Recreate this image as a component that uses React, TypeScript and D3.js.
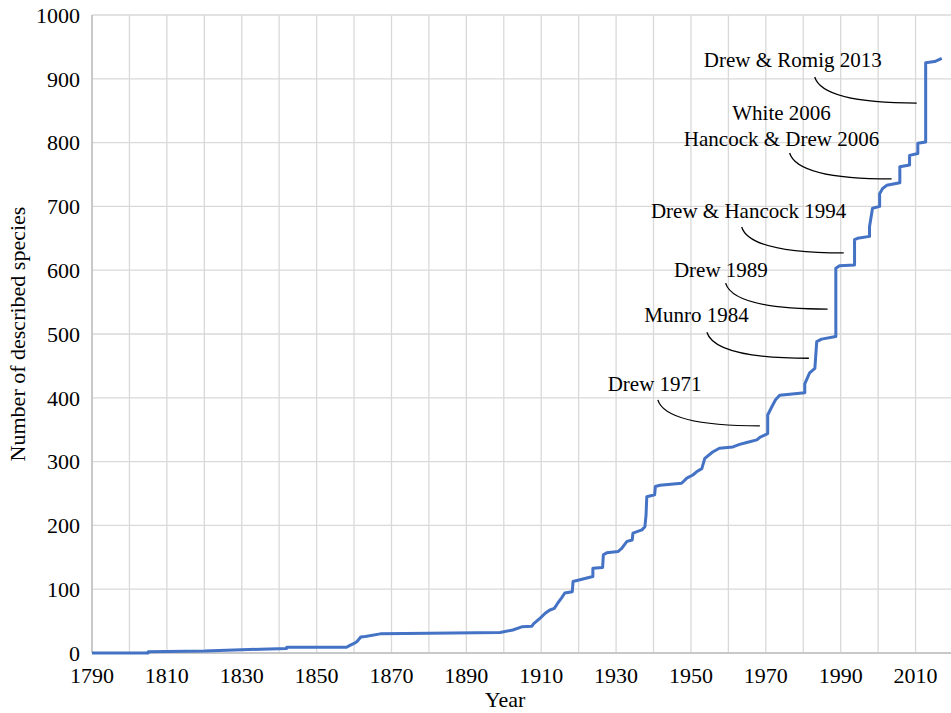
import React from 'react'
import * as d3 from 'd3'

// cumulative number of described species
const years = [
  1790, 1805, 1805, 1820, 1835, 1842, 1842, 1858, 1858.9, 1860, 1860.8, 1861.8, 1863, 1867, 1880, 1899,
  1902.4, 1904.8, 1907.5, 1908, 1908.8, 1909.8, 1911, 1912.2, 1913.5, 1914.4, 1915.4, 1916.3, 1918.3,
  1918.5, 1923.8, 1923.8, 1926.4, 1926.6, 1927.5, 1930.5, 1931.5, 1932.9, 1934.3, 1934.5, 1936.9, 1937.7,
  1938, 1938.2, 1940.3, 1940.5, 1941.7, 1947.5, 1948.9, 1950.5, 1951.5, 1952.9, 1953.7, 1955.8, 1957.6,
  1961.2, 1963, 1964.9, 1967.6, 1968.4, 1970.5, 1970.5, 1971.6, 1972.6, 1973.7, 1980.4, 1980.4, 1981.7,
  1983.1, 1983.6, 1984.9, 1988.7, 1988.7, 1989.7, 1993.7, 1993.7, 1994.5, 1997.7, 1997.7, 1998.5, 2000.4,
  2000.4, 2001.2, 2002.3, 2005.8, 2005.8, 2008.4, 2008.4, 2010.6, 2010.6, 2012.7, 2012.7, 2015.1, 2017,
]
const counts = [
  0, 0, 2, 3, 6, 7, 9, 9, 12, 15, 18, 25, 26, 30, 31, 32,
  36, 41, 42, 46, 50, 55, 62, 67, 70, 78, 86, 94, 96,
  112, 120, 133, 134, 154, 157, 159, 164, 175, 177, 188, 193, 198,
  216, 245, 248, 261, 263, 266, 274, 279, 284, 289, 305, 315, 321,
  323, 327, 330, 334, 338, 344, 373, 386, 397, 404, 408, 422, 439,
  446, 488, 492, 496, 603, 607, 608, 648, 650, 653, 668, 697, 700,
  720, 728, 733, 737, 762, 765, 780, 783, 799, 801, 925, 927, 932,
]

const xTickLabels = [1790, 1810, 1830, 1850, 1870, 1890, 1910, 1930, 1950, 1970, 1990, 2010]
const xGridYears = [1790, 1800, 1810, 1820, 1830, 1840, 1850, 1860, 1870, 1880, 1890, 1900, 1910, 1920,
  1930, 1940, 1950, 1960, 1970, 1980, 1990, 2000, 2010, 2020]
const yTicks = [0, 100, 200, 300, 400, 500, 600, 700, 800, 900, 1000]

// annotations: text lines, leader end (year, value), text anchor (year, value of last baseline)
const noteLabels = [
  ['Drew 1971'],
  ['Munro 1984'],
  ['Drew 1989'],
  ['Drew & Hancock 1994'],
  ['White 2006', 'Hancock & Drew 2006'],
  ['Drew & Romig 2013'],
]
const noteYears = [1968.4, 1981.5, 1986.5, 1990.8, 2003.6, 2010.3]
const noteValues = [356, 462, 539, 627, 743, 862]
const noteTextYears = [1940.3, 1951.5, 1958, 1965.4, 1974.2, 1977.2]
const noteTextValues = [410.7, 518.8, 589, 681.8, 794.7, 918.5]

export default function App() {
  const width = 951
  const height = 713
  const margin = { top: 15, right: -2, bottom: 60, left: 92 }

  const x = d3.scaleLinear().domain([1790, 2020]).range([margin.left, width - margin.right])
  const y = d3.scaleLinear().domain([0, 1000]).range([height - margin.bottom, margin.top])

  const pts = years.map((yr, i) => [yr, counts[i]] as [number, number])
  const line = d3
    .line<[number, number]>()
    .x((d) => x(d[0]))
    .y((d) => y(d[1]))

  const font = '"Liberation Serif", "Times New Roman", serif'

  return (
    <svg
      width={width}
      height={height}
      style={{ position: 'absolute', left: 0, top: 0, background: '#fff' }}
      fontFamily={font}
    >
      {/* grid */}
      {yTicks.map((t) => (
        <line key={'gy' + t} x1={x(1790)} x2={width} y1={y(t)} y2={y(t)} stroke="#d9d9d9" strokeWidth={1.3} />
      ))}
      {xGridYears.map((t) => (
        <line key={'gx' + t} x1={x(t)} x2={x(t)} y1={y(0)} y2={y(1000)} stroke="#d9d9d9" strokeWidth={1.3} />
      ))}
      {/* axes */}
      <line x1={x(1790)} x2={x(1790)} y1={y(0)} y2={y(1000)} stroke="#bfbfbf" strokeWidth={1.5} />
      <line x1={x(1790)} x2={width} y1={y(0)} y2={y(0)} stroke="#bfbfbf" strokeWidth={1.5} />

      {yTicks.map((t) => (
        <text key={'ly' + t} x={80} y={y(t)} dy="0.35em" textAnchor="end" fontSize={22} fill="#000">
          {t}
        </text>
      ))}
      {xTickLabels.map((t) => (
        <text key={'lx' + t} x={x(t)} y={683} textAnchor="middle" fontSize={22} fill="#000">
          {t}
        </text>
      ))}

      <text x={505} y={707} textAnchor="middle" fontSize={22} fill="#000">
        Year
      </text>
      <text
        transform={`translate(25, ${(y(0) + y(1000)) / 2}) rotate(-90)`}
        textAnchor="middle"
        fontSize={22}
        fill="#000"
      >
        Number of described species
      </text>

      {/* series */}
      <path d={line(pts) || ''} fill="none" stroke="#4472c4" strokeWidth={3} strokeLinejoin="round" />

      {/* annotations */}
      {noteLabels.map((lines, i) => {
        const ex = x(noteYears[i])
        const ey = y(noteValues[i])
        const sx = ex - 102
        const sy = ey - 26
        const tx = x(noteTextYears[i])
        const ty = y(noteTextValues[i])
        return (
          <g key={'n' + i}>
            <path
              d={`M${sx},${sy} Q${sx + 8},${ey} ${ex},${ey}`}
              fill="none"
              stroke="#000"
              strokeWidth={1.3}
            />
            {lines.map((s, j) => (
              <text
                key={j}
                x={tx}
                y={ty - (lines.length - 1 - j) * 26}
                textAnchor="middle"
                fontSize={21}
                fill="#000"
              >
                {s}
              </text>
            ))}
          </g>
        )
      })}
    </svg>
  )
}
